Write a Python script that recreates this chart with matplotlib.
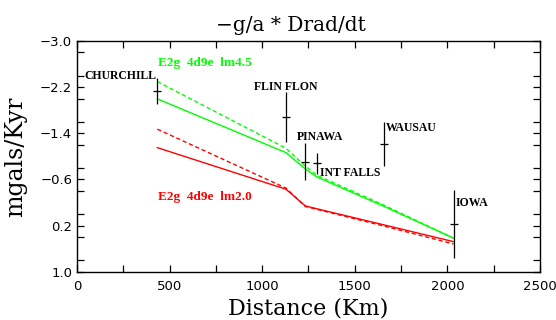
import numpy as np
import matplotlib
matplotlib.use('Agg')
import matplotlib.pyplot as plt
from matplotlib.ticker import MultipleLocator

# station observations
stations = ['CHURCHILL', 'FLIN FLON', 'PINAWA', 'INT FALLS', 'WAUSAU', 'IOWA']
dist = [434, 1128, 1233, 1296, 1659, 2034]
obs = [-2.13, -1.68, -0.91, -0.88, -1.22, 0.18]
err = [0.23, 0.44, 0.32, 0.18, 0.38, 0.59]

# model curves at the stations
lm45_solid = [-1.995, -1.065, -0.78, -0.64, -0.13, 0.42]
lm45_dash = [-2.295, -1.14, -0.83, -0.67, -0.15, 0.42]
lm20_solid = [-1.15, -0.43, -0.14, -0.09, 0.19, 0.48]
lm20_dash = [-1.47, -0.45, -0.13, -0.08, 0.21, 0.52]

# label positions (x, y, ha)
label_pos = [(430, -2.40, 'right'), (1128, -2.20, 'center'), (1185, -1.34, 'left'),
             (1310, -0.71, 'left'), (1670, -1.49, 'left'), (2045, -0.19, 'left')]

fig = plt.figure(figsize=(5.56, 3.2), dpi=100)
ax = fig.add_axes([0.1385, 0.151, 0.8327, 0.721])

ax.plot(dist, lm45_solid, color='#00ff00', lw=1.0)
ax.plot(dist, lm45_dash, color='#00ff00', lw=1.0, dashes=(3, 2))
ax.plot(dist, lm20_solid, color='#ff0000', lw=1.0)
ax.plot(dist, lm20_dash, color='#ff0000', lw=1.0, dashes=(3, 2))

ax.errorbar(dist, obs, yerr=err, fmt='_', color='black', ms=6, mew=0.9,
            elinewidth=0.9, capsize=0)

for name, (x, y, ha) in zip(stations, label_pos):
    ax.text(x, y, name, ha=ha, va='center', family='Liberation Serif',
            weight='bold', fontsize=8.5)

ax.text(440, -2.61, 'E2g  4d9e  lm4.5', color='#00ff00', family='Liberation Serif',
        weight='bold', fontsize=9.5, va='center')
ax.text(440, -0.29, 'E2g  4d9e  lm2.0', color='#ff0000', family='Liberation Serif',
        weight='bold', fontsize=9.5, va='center')

ax.set_xlim(0, 2500)
ax.set_ylim(1.0, -3.0)
ax.xaxis.set_major_locator(MultipleLocator(500))
ax.xaxis.set_minor_locator(MultipleLocator(250))
ax.set_yticks([-3.0, -2.2, -1.4, -0.6, 0.2, 1.0])
ax.set_yticklabels(['\u22123.0', '\u22122.2', '\u22121.4', '\u22120.6', '0.2', '1.0'])
ax.yaxis.set_minor_locator(MultipleLocator(0.4))
ax.tick_params(which='both', direction='in', top=True, right=True, length=5,
               width=0.9, labelsize=9.5)
ax.tick_params(axis='x', pad=6)
for s in ax.spines.values():
    s.set_linewidth(1.0)

ax.set_xlabel('Distance (Km)', family='DejaVu Serif', fontsize=16, labelpad=3)
ax.set_ylabel('mgals/Kyr', family='DejaVu Serif', fontsize=17, labelpad=9)
ax.set_title('\u2212g/a * Drad/dt', family='DejaVu Serif', fontsize=14.5, pad=7, x=0.463)

fig.savefig('out.png', dpi=100)
